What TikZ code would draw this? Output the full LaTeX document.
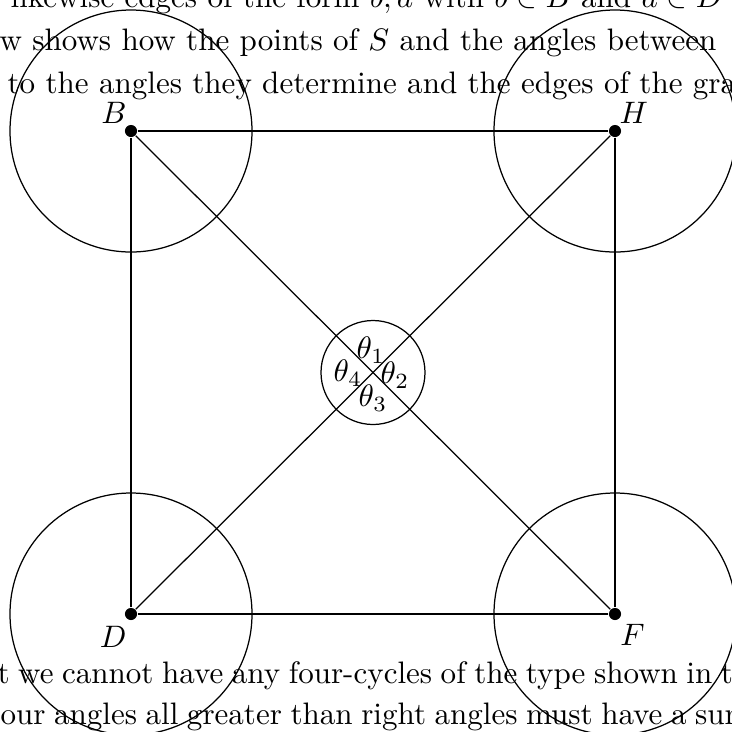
\documentclass[tikz,border=0pt]{standalone}
\usepackage{tikz}
\usetikzlibrary{positioning,calc}
\usepackage{amssymb,amsmath}

\newcommand{\tightsp}{\spaceskip=2.75pt\relax}

\tikzset{
  vtx/.style={circle, fill=black, inner sep=0pt, minimum size=3.9pt},
  txtline/.style={anchor=base west, inner sep=0pt},
}

\begin{document}
\begin{tikzpicture}[x=0.322pt, y=-0.322pt]
\useasboundingbox (0,0) rectangle (732,731);
\clip (0,0) rectangle (732,731);

% Surrounding text of the page
\node[txtline] (top1) at (10,7) {likewise edges of the form $b,a$ with $b\in B$ and $a\in D$};
\node[txtline] (top2) at (-1,50) {w shows how the points of $S$ and the angles between};
\node[txtline] (top3) at (7,93) {to the angles they determine and the edges of the graph};
\node[txtline] (bot1) at (-3,683) {\tightsp t we cannot have any four-cycles of the type shown in the};
\node[txtline] (bot2) at (0,724) {\tightsp our angles all greater than right angles must have a sum};

% Corner points
\node[vtx] (B) at (131,131) {};
\node[vtx] (H) at (615,131) {};
\node[vtx] (D) at (131,614) {};
\node[vtx] (F) at (615,614) {};
\coordinate (O) at (373,372.5);

\node[above left=-2.6pt and -3.6pt of B] (lB) {$B$};
\node[above right=-2.6pt and -3.6pt of H] (lH) {$H$};
\node[below left=-1pt and -3.6pt of D] (lD) {$D$};
\node[below right=-1.6pt and -3.3pt of F] (lF) {$F$};

% Square and diagonals
\draw (B) -- (H) -- (F) -- (D) -- (B);
\draw (B) -- (F);
\draw (H) -- (D);

% Circles
\foreach \p in {B,H,D,F}
  \draw (\p) circle (121);
\draw (O) circle (52);

% Angles at the crossing
\node (t1) at ($(O)+(-2,-22)$) {$\theta_1$};
\node (t2) at ($(O)+(22,3)$) {$\theta_2$};
\node (t3) at ($(O)+(0,26)$) {$\theta_3$};
\node (t4) at ($(O)+(-25,1)$) {$\theta_4$};
\end{tikzpicture}
\end{document}
